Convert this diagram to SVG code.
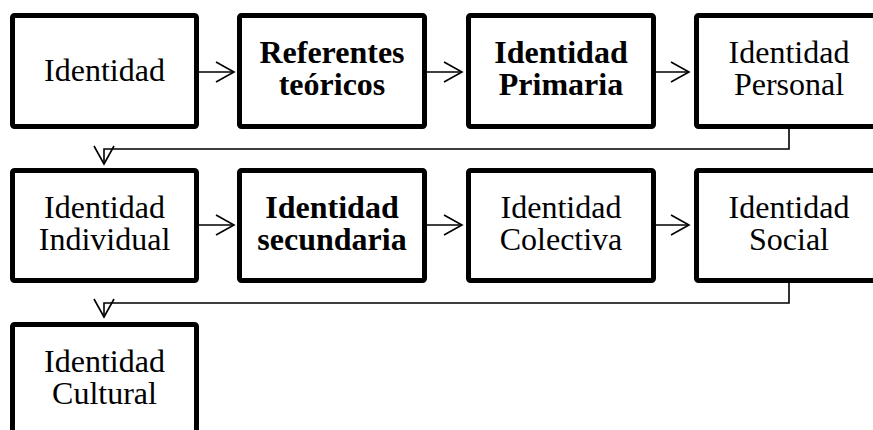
<svg xmlns="http://www.w3.org/2000/svg" width="873" height="430" viewBox="0 0 873 430">
<defs>
<marker id="arr" markerUnits="userSpaceOnUse" markerWidth="22" markerHeight="24" refX="18" refY="10" orient="auto" overflow="visible">
<path d="M0,0 L18,10 L0,20" fill="none" stroke="#000" stroke-width="1.6"/>
</marker>
<style>
.box{fill:#fff;stroke:#000;stroke-width:5}
.t{font-family:"Liberation Serif","Times New Roman",serif;font-size:32px;fill:#000;text-anchor:middle}
.b{font-weight:bold}
.c{fill:none;stroke:#000;stroke-width:1.6}
</style>
</defs>
<rect width="873" height="430" fill="#fff"/>
<g id="connectors">
<line class="c" x1="199" y1="72" x2="234" y2="72" marker-end="url(#arr)"/>
<line class="c" x1="427" y1="72" x2="462" y2="72" marker-end="url(#arr)"/>
<line class="c" x1="656" y1="72" x2="689" y2="72" marker-end="url(#arr)"/>
<polyline class="c" points="789,129 789,149 104,149 104,164" marker-end="url(#arr)"/>
<line class="c" x1="199" y1="225" x2="234" y2="225" marker-end="url(#arr)"/>
<line class="c" x1="427" y1="225" x2="462" y2="225" marker-end="url(#arr)"/>
<line class="c" x1="656" y1="225" x2="689" y2="225" marker-end="url(#arr)"/>
<polyline class="c" points="789,283 789,303 104,303 104,317" marker-end="url(#arr)"/>
</g>
<g id="n1"><rect class="box" x="12.5" y="15.5" width="184" height="111" rx="2"/><text class="t" x="104.5" y="81">Identidad</text></g>
<g id="n2"><rect class="box" x="239.5" y="15.5" width="185" height="111" rx="2"/><text class="t b" x="332" y="63">Referentes</text><text class="t b" x="332" y="95">teóricos</text></g>
<g id="n3"><rect class="box" x="468.5" y="15.5" width="185" height="111" rx="2"/><text class="t b" x="561" y="63">Identidad</text><text class="t b" x="561" y="95">Primaria</text></g>
<g id="n4"><rect class="box" x="696.5" y="15.5" width="185" height="111" rx="2"/><text class="t" x="789" y="63">Identidad</text><text class="t" x="789" y="95">Personal</text></g>
<g id="n5"><rect class="box" x="12.5" y="170.5" width="184" height="110" rx="2"/><text class="t" x="104.5" y="218">Identidad</text><text class="t" x="104.5" y="250">Individual</text></g>
<g id="n6"><rect class="box" x="239.5" y="170.5" width="185" height="110" rx="2"/><text class="t b" x="332" y="218">Identidad</text><text class="t b" x="332" y="250">secundaria</text></g>
<g id="n7"><rect class="box" x="468.5" y="170.5" width="185" height="110" rx="2"/><text class="t" x="561" y="218">Identidad</text><text class="t" x="561" y="250">Colectiva</text></g>
<g id="n8"><rect class="box" x="696.5" y="170.5" width="185" height="110" rx="2"/><text class="t" x="789" y="218">Identidad</text><text class="t" x="789" y="250">Social</text></g>
<g id="n9"><rect class="box" x="12.5" y="324.5" width="184" height="120" rx="2"/><text class="t" x="104.5" y="372">Identidad</text><text class="t" x="104.5" y="404">Cultural</text></g>
</svg>
